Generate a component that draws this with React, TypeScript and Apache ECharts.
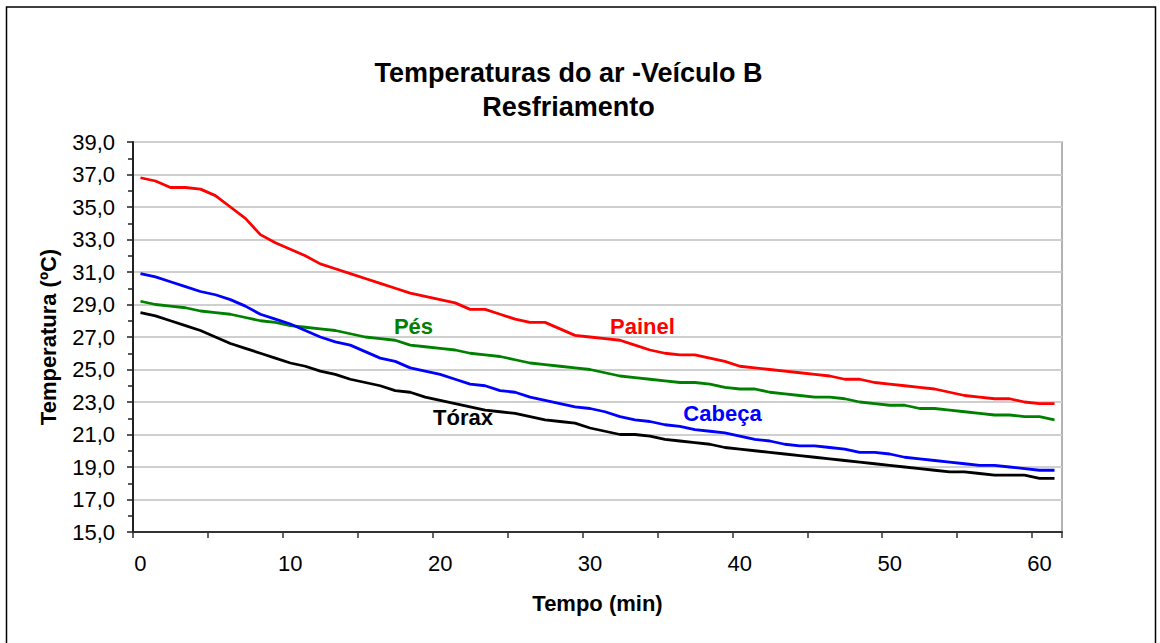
import React, { useEffect, useRef } from "react";
import * as echarts from "echarts";

const minutes = [
  "0","1","2","3","4","5","6","7","8","9",
  "10","11","12","13","14","15","16","17","18","19",
  "20","21","22","23","24","25","26","27","28","29",
  "30","31","32","33","34","35","36","37","38","39",
  "40","41","42","43","44","45","46","47","48","49",
  "50","51","52","53","54","55","56","57","58","59",
  "60","61",
];

const painel = [
  36.8, 36.6, 36.2, 36.2, 36.1, 35.7, 35.0, 34.3, 33.3, 32.8,
  32.4, 32.0, 31.5, 31.2, 30.9, 30.6, 30.3, 30.0, 29.7, 29.5,
  29.3, 29.1, 28.7, 28.7, 28.4, 28.1, 27.9, 27.9, 27.5, 27.1,
  27.0, 26.9, 26.8, 26.5, 26.2, 26.0, 25.9, 25.9, 25.7, 25.5,
  25.2, 25.1, 25.0, 24.9, 24.8, 24.7, 24.6, 24.4, 24.4, 24.2,
  24.1, 24.0, 23.9, 23.8, 23.6, 23.4, 23.3, 23.2, 23.2, 23.0,
  22.9, 22.9,
];

const pes = [
  29.2, 29.0, 28.9, 28.8, 28.6, 28.5, 28.4, 28.2, 28.0, 27.9,
  27.7, 27.6, 27.5, 27.4, 27.2, 27.0, 26.9, 26.8, 26.5, 26.4,
  26.3, 26.2, 26.0, 25.9, 25.8, 25.6, 25.4, 25.3, 25.2, 25.1,
  25.0, 24.8, 24.6, 24.5, 24.4, 24.3, 24.2, 24.2, 24.1, 23.9,
  23.8, 23.8, 23.6, 23.5, 23.4, 23.3, 23.3, 23.2, 23.0, 22.9,
  22.8, 22.8, 22.6, 22.6, 22.5, 22.4, 22.3, 22.2, 22.2, 22.1,
  22.1, 21.9,
];

const cabeca = [
  30.9, 30.7, 30.4, 30.1, 29.8, 29.6, 29.3, 28.9, 28.4, 28.1,
  27.8, 27.4, 27.0, 26.7, 26.5, 26.1, 25.7, 25.5, 25.1, 24.9,
  24.7, 24.4, 24.1, 24.0, 23.7, 23.6, 23.3, 23.1, 22.9, 22.7,
  22.6, 22.4, 22.1, 21.9, 21.8, 21.6, 21.5, 21.3, 21.2, 21.1,
  20.9, 20.7, 20.6, 20.4, 20.3, 20.3, 20.2, 20.1, 19.9, 19.9,
  19.8, 19.6, 19.5, 19.4, 19.3, 19.2, 19.1, 19.1, 19.0, 18.9,
  18.8, 18.8,
];

const torax = [
  28.5, 28.3, 28.0, 27.7, 27.4, 27.0, 26.6, 26.3, 26.0, 25.7,
  25.4, 25.2, 24.9, 24.7, 24.4, 24.2, 24.0, 23.7, 23.6, 23.3,
  23.1, 22.9, 22.7, 22.5, 22.4, 22.3, 22.1, 21.9, 21.8, 21.7,
  21.4, 21.2, 21.0, 21.0, 20.9, 20.7, 20.6, 20.5, 20.4, 20.2,
  20.1, 20.0, 19.9, 19.8, 19.7, 19.6, 19.5, 19.4, 19.3, 19.2,
  19.1, 19.0, 18.9, 18.8, 18.7, 18.7, 18.6, 18.5, 18.5, 18.5,
  18.3, 18.3,
];

const seriesNames = ["Painel", "Pés", "Cabeça", "Tórax"];
const seriesColors = ["#FF0000", "#008000", "#0000FF", "#000000"];
const seriesData = [painel, pes, cabeca, torax];

const FONT = "'Liberation Sans', Arial, Helvetica, sans-serif";

export default function App() {
  const ref = useRef<HTMLDivElement>(null);

  useEffect(() => {
    if (!ref.current) return;
    const chart = echarts.init(ref.current, undefined, { renderer: "svg" });

    const inlineLabels = [
      { text: "Pés", x: 413.5, y: 326, color: "#008000" },
      { text: "Painel", x: 642.5, y: 326, color: "#FF0000" },
      { text: "Cabeça", x: 722.5, y: 413, color: "#0000FF" },
      { text: "Tórax", x: 463, y: 417, color: "#000000" },
    ];

    chart.setOption({
      animation: false,
      backgroundColor: "#ffffff",
      title: {
        text: "Temperaturas do ar -Veículo B\nResfriamento",
        left: 568.5,
        top: 56,
        padding: 0,
        textAlign: "center",
        textStyle: {
          fontFamily: FONT,
          fontSize: 27,
          fontWeight: "bold",
          color: "#000",
          lineHeight: 34,
        },
      },
      grid: {
        left: 133,
        right: 98,
        top: 142,
        bottom: 111,
        show: true,
        borderColor: "#9a9a9a",
        borderWidth: 1.5,
        backgroundColor: "transparent",
        containLabel: false,
      },
      xAxis: {
        type: "category",
        data: minutes,
        boundaryGap: true,
        name: "Tempo (min)",
        nameLocation: "middle",
        nameGap: 60,
        nameTextStyle: {
          fontFamily: FONT,
          fontSize: 22,
          fontWeight: "bold",
          color: "#000",
        },
        axisLine: { show: true, lineStyle: { color: "#333", width: 2 } },
        axisTick: {
          show: true,
          interval: 4,
          length: 6,
          inside: false,
          lineStyle: { color: "#333", width: 1.5 },
        },
        axisLabel: {
          interval: 9,
          margin: 20,
          fontFamily: FONT,
          fontSize: 22,
          color: "#000",
        },
        splitLine: { show: false },
      },
      yAxis: {
        type: "value",
        min: 15,
        max: 39,
        interval: 2,
        name: "Temperatura (ºC)",
        nameLocation: "middle",
        nameGap: 74,
        nameRotate: 90,
        nameTextStyle: {
          fontFamily: FONT,
          fontSize: 22,
          fontWeight: "bold",
          color: "#000",
        },
        axisLine: { show: true, lineStyle: { color: "#222", width: 2 } },
        axisTick: {
          show: true,
          length: 6,
          inside: false,
          lineStyle: { color: "#222", width: 1.5 },
        },
        minorTick: {
          show: true,
          splitNumber: 2,
          length: 5,
          lineStyle: { color: "#222", width: 1.5 },
        },
        axisLabel: {
          margin: 18,
          fontFamily: FONT,
          fontSize: 22,
          color: "#000",
          formatter: (v: number) => v.toFixed(1).replace(".", ","),
        },
        splitLine: { show: true, lineStyle: { color: "#cfcfcf", width: 2 } },
        minorSplitLine: { show: false },
      },
      series: seriesNames.map((name, i) => ({
        name,
        type: "line",
        data: seriesData[i],
        showSymbol: false,
        symbol: "none",
        smooth: false,
        lineStyle: { color: seriesColors[i], width: 2.8 },
        itemStyle: { color: seriesColors[i] },
        z: 3,
      })),
      graphic: [
        {
          type: "rect",
          shape: { x: 6.5, y: 7, width: 1149, height: 645 },
          style: { fill: "none", stroke: "#000", lineWidth: 1.5 },
          z: 100,
          silent: true,
        },
        ...inlineLabels.map((l) => ({
          type: "text",
          x: l.x,
          y: l.y,
          z: 100,
          style: {
            text: l.text,
            fill: l.color,
            font: `bold 22px ${FONT}`,
            textAlign: "center",
            textVerticalAlign: "middle",
          },
        })),
      ],
    });

    return () => {
      chart.dispose();
    };
  }, []);

  return (
    <div
      ref={ref}
      style={{ position: "absolute", left: 0, top: 0, width: 1160, height: 643 }}
    />
  );
}
